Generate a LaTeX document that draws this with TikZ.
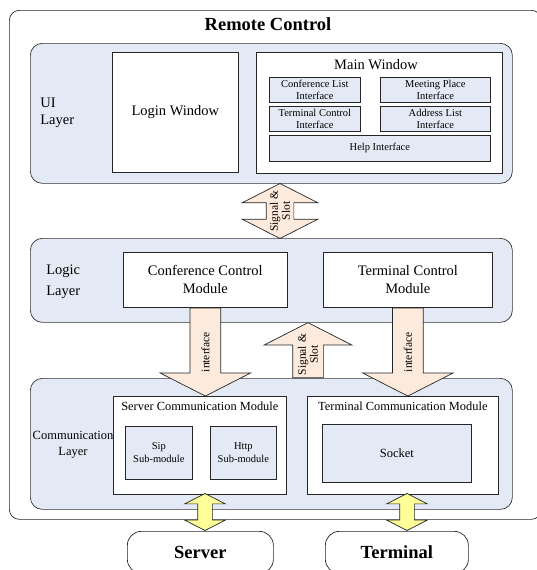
\documentclass[tikz,border=0pt]{standalone}
\usepackage{fontspec}
\setmainfont{Liberation Serif}
\usepackage{tikz}
\usetikzlibrary{shapes.arrows,positioning,calc}
\definecolor{layerblue}{RGB}{228,234,245}
\definecolor{arrowpeach}{RGB}{252,234,220}
\definecolor{linkyellow}{RGB}{255,255,153}

\begin{document}
\begin{tikzpicture}[x=1pt, y=-1pt, line width=0.7pt,
  every node/.style={inner sep=0pt, align=center},
  layer/.style={draw=black!80, fill=layerblue, rounded corners=12pt,
                anchor=north west},
  lname/.style={anchor=west, align=left, font=\fontsize{14.5}{17}\selectfont},
  win/.style={draw=black!85, fill=white, anchor=north west,
              font=\fontsize{14.5}{18}\selectfont},
  iface/.style={draw=black!85, fill=layerblue, anchor=north west,
                font=\fontsize{10.5}{12}\selectfont},
  modtitle/.style={font=\fontsize{12.4}{14}\selectfont},
  sig/.style={draw=black!85, fill=arrowpeach, rotate=90, minimum width=0pt},
  siglbl/.style={rotate=90, font=\fontsize{11.5}{12}\selectfont},
  link/.style={draw=black!85, fill=linkyellow, double arrow, rotate=90,
               double arrow tip angle=126, double arrow head extend=13pt,
               minimum width=0pt, minimum height=37pt, inner ysep=7pt},
  host/.style={draw=black!85, rounded corners=14pt, anchor=north west,
               font=\bfseries\fontsize{18.5}{20}\selectfont}
]
\useasboundingbox (0,0) rectangle (537,570);
\clip (0,0) rectangle (537,570);

% outer frame
\node[draw=black!85, rounded corners=10pt, anchor=north west,
      minimum width=532pt, minimum height=509pt] (remote) at (9,10) {};
\node[font=\bfseries\fontsize{18.5}{20}\selectfont] (title) at (268,24) {Remote Control};

% layers
\node[layer, minimum width=482pt, minimum height=140pt] (ui)    at (30,43)  {};
\node[layer, minimum width=482pt, minimum height=84pt]  (logic) at (30,238) {};
\node[layer, minimum width=482pt, minimum height=131pt] (comm)  at (30,378) {};
\node[lname] (uiname)    at (40,113) {UI\\Layer};
\node[lname, font=\fontsize{14.5}{21}\selectfont] (logicname) at (46,282) {Logic\\Layer};
\node[lname, align=center, anchor=center,
      font=\fontsize{12.5}{16}\selectfont] (commname) at (73,445) {Communication\\Layer};

% UI layer
\node[win, minimum width=126pt, minimum height=120pt] (login) at (112,52) {Login Window};
\node[win, minimum width=246pt, minimum height=121pt] (main)  at (256,52) {};
\node[font=\fontsize{14.5}{18}\selectfont] (maintitle) at (376,65) {Main Window};
\node[iface, minimum width=91pt,  minimum height=25pt] (lstif)   at (269,77)  {Conference List\\Interface};
\node[iface, minimum width=110pt, minimum height=25pt] (placeif) at (380,77)  {Meeting Place\\Interface};
\node[iface, minimum width=91pt,  minimum height=25pt] (ctlif)   at (269,106) {Terminal Control\\Interface};
\node[iface, minimum width=110pt, minimum height=25pt] (addrif)  at (380,106) {Address List\\Interface};
\node[iface, minimum width=221pt, minimum height=26pt] (helpif)  at (269,135) {Help Interface};

% logic layer
\node[win, minimum width=164pt, minimum height=55pt] (confmod) at (123,252) {Conference Control\\Module};
\node[win, minimum width=169pt, minimum height=55pt] (termmod) at (323,252) {Terminal Control\\Module};

% communication layer
\node[win, minimum width=173pt, minimum height=98pt] (srvcomm) at (113,396) {};
\node[modtitle, below=6pt of srvcomm.north] (srvtitle) {Server Communication Module};
\node[iface, minimum width=67pt, minimum height=53pt,
      font=\fontsize{10.5}{13}\selectfont] (sip)  at (125,426) {Sip\\Sub-module};
\node[iface, minimum width=66pt, minimum height=53pt,
      font=\fontsize{10.5}{13}\selectfont] (http) at (210,426) {Http\\Sub-module};
\node[win, minimum width=191pt, minimum height=98pt] (tcomm) at (307,396) {};
\node[modtitle, below=6pt of tcomm.north] (ttitle) {Terminal Communication Module};
\node[iface, minimum width=149pt, minimum height=58pt,
      font=\fontsize{12.5}{14}\selectfont] (socket) at (322,424) {Socket};

% outside hosts
\node[host, minimum width=146pt, minimum height=42pt] (server)   at (127,531) {Server};
\node[host, minimum width=143pt, minimum height=42pt] (terminal) at (325,531) {Terminal};

% block arrows
\node[sig, double arrow, double arrow tip angle=126, double arrow head extend=24pt,
      minimum height=55pt, inner ysep=13.5pt] (ss1) at (280,211) {};
\node[siglbl] at (ss1) {Signal \&\\Slot};
\node[sig, single arrow, single arrow tip angle=126, single arrow head extend=30pt,
      shape border rotate=180, minimum height=88pt, inner ysep=15pt,
      anchor=tail] (if1) at (confmod.south) {};
\node[siglbl] at ($(if1.tail)!0.5!(if1.tip)$) {interface};
\node[sig, single arrow, single arrow tip angle=126, single arrow head extend=28.5pt,
      minimum height=55pt, inner ysep=15pt, anchor=tail] (ss2) at (308,378) {};
\node[siglbl] at ($(ss2.tail)!0.42!(ss2.tip)$) {Signal \&\\Slot};
\node[sig, single arrow, single arrow tip angle=126, single arrow head extend=30pt,
      shape border rotate=180, minimum height=88pt, inner ysep=15pt,
      anchor=tail] (if2) at (termmod.south) {};
\node[siglbl] at ($(if2.tail)!0.5!(if2.tip)$) {interface};
\node[link] (lk1) at (205,512) {};
\node[link] (lk2) at (407,512) {};
\end{tikzpicture}
\end{document}
